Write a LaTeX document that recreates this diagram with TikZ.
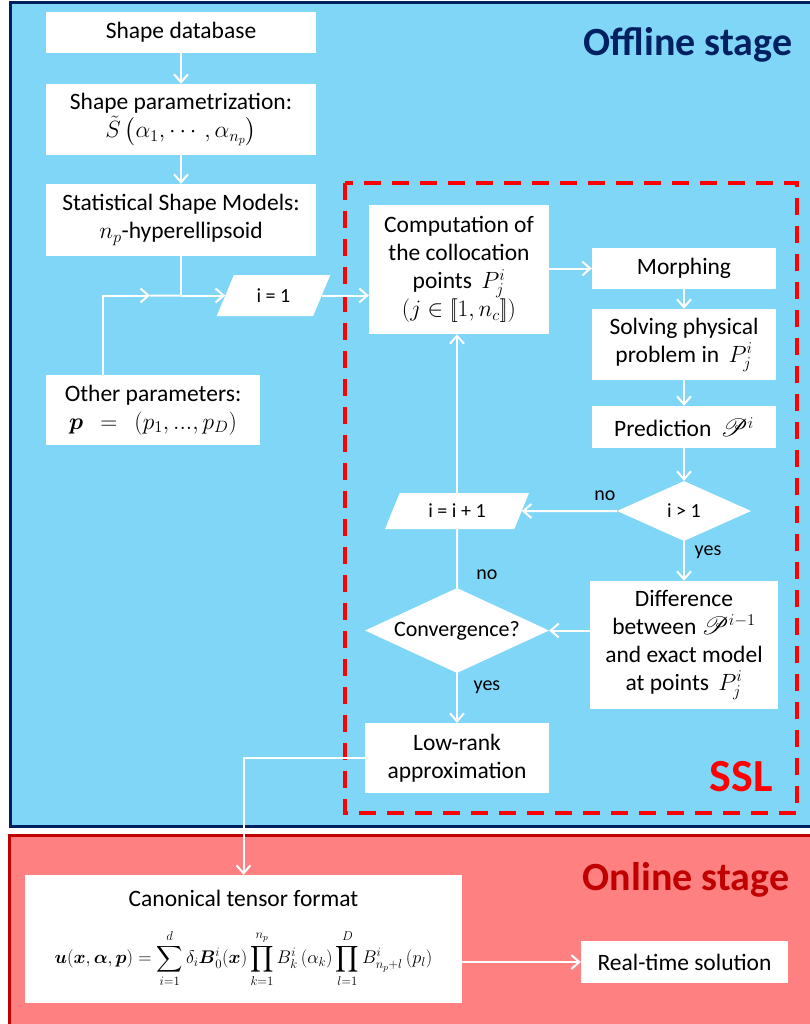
\RequirePackage{fix-cm}
\documentclass[tikz,border=0pt]{standalone}
\usepackage{amsmath,amssymb}
\usepackage{mathrsfs}
\usepackage[no-math]{fontspec}
\setmainfont{Carlito}
\usetikzlibrary{arrows.meta,shapes.geometric}
\definecolor{offfill}{RGB}{128,214,247}
\definecolor{offdark}{RGB}{0,32,96}
\definecolor{onfill}{RGB}{255,128,128}
\definecolor{ondark}{RGB}{192,0,0}
\definecolor{sslred}{RGB}{255,0,0}
\begin{document}
\begin{tikzpicture}[x=1pt,y=-1pt,
  box/.style={fill=white, draw=none, align=center, inner sep=0pt, text=black, font=\fontsize{23.5}{28}\selectfont},
  para/.style={trapezium, trapezium left angle=62, trapezium right angle=118, trapezium stretches=true, fill=white, draw=none, inner sep=0pt, text=black, font=\fontsize{20}{24}\selectfont},
  dec/.style={diamond, aspect=2.2, fill=white, draw=none, inner sep=0pt, text=black, font=\fontsize{20}{24}\selectfont},
  arr/.style={draw=white, line width=2pt, -{Straight Barb[length=8pt,width=14pt]}},
  ln/.style={draw=white, line width=2pt},
  lbl/.style={text=black, font=\fontsize{20}{24}\selectfont},
  stage/.style={font=\fontsize{40}{48}\selectfont\bfseries}
]
\useasboundingbox (0,0) rectangle (810,1024);
\clip (0,0) rectangle (810,1024);
\fill[white] (0,0) rectangle (810,1024);
% stage panels
\draw[draw=offdark, line width=3pt, fill=offfill] (10,3) rectangle (830,826);
\draw[draw=ondark, line width=3pt, fill=onfill] (9,835) rectangle (830,1040);
\node[stage, text=offdark] (offt) at (688,45) {Offline stage};
\node[stage, text=ondark] (ont) at (686,880) {Online stage};
% SSL frame
\draw[sslred, line width=4pt, dash pattern=on 17pt off 11pt] (345,183) rectangle (797,813);
\node[font=\fontsize{46}{52}\selectfont\bfseries, text=sslred] (sslt) at (741,777) {SSL};

% nodes
\node[box, minimum width=270pt, minimum height=41pt] (sdb) at (181,32.5) {Shape database};
\node[box, minimum width=270pt, minimum height=71pt] (spar) at (181,119.5) {Shape parametrization:\\ $\tilde{S}\left(\alpha_1,\cdots,\alpha_{n_p}\right)$};
\node[box, minimum width=270pt, minimum height=72pt] (ssm) at (181,220) {Statistical Shape Models:\\ $n_p$-hyperellipsoid};
\node[para, minimum width=114pt, minimum height=41pt] (i1) at (273.5,295.5) {i = 1};
\node[box, minimum width=214pt, minimum height=70pt] (oth) at (153,410) {Other parameters:\\ $\boldsymbol{p}\ \ =\ \ (p_1,...,p_D)$};

\node[box, minimum width=180pt, minimum height=129pt] (comp) at (459,269.5) {Computation of\\ the collocation\\ points $\,P_j^i$\\ $(j\in[\![1,n_c]\!])$};
\node[box, minimum width=184pt, minimum height=41pt] (morph) at (684,268.5) {Morphing};
\node[box, minimum width=184pt, minimum height=71pt] (solv) at (684,344.5) {Solving physical\\ problem in $\,P_j^i$};
\node[box, minimum width=184pt, minimum height=42pt] (pred) at (684,427) {Prediction $\,\mathscr{P}^i$};
\node[dec, minimum width=134pt, minimum height=60pt] (dia1) at (684,511) {i > 1};
\node[para, minimum width=145pt, minimum height=36pt] (iinc) at (457,511) {i = i + 1};
\node[dec, minimum width=184pt, minimum height=85pt, font=\fontsize{22}{26}\selectfont] (conv) at (457,630.5) {Convergence?};
\node[box, minimum width=188pt, minimum height=128pt] (diff) at (684,645) {Difference\\ between $\mathscr{P}^{i-1}$\\ and exact model\\ at points $\,P_j^i$};
\node[box, minimum width=184pt, minimum height=70pt] (lowr) at (457,758) {Low-rank\\ approximation};

\node[box, minimum width=437pt, minimum height=128pt] (canon) at (243.5,939) {Canonical tensor format\\[22pt]
  {\fontsize{18.3}{22}\selectfont $\displaystyle \boldsymbol{u}(\boldsymbol{x},\boldsymbol{\alpha},\boldsymbol{p})=\sum_{i=1}^{d}\delta_i\boldsymbol{B}_0^i(\boldsymbol{x})\prod_{k=1}^{n_p}B_k^i\left(\alpha_k\right)\prod_{l=1}^{D}B_{n_p+l}^i\left(p_l\right)$}};
\node[box, minimum width=207pt, minimum height=42pt] (real) at (684.5,962) {Real-time solution};

% labels
\node[lbl] (no1) at (605,496) {no};
\node[lbl] (yes1) at (708,552) {yes};
\node[lbl] (no2) at (487,575) {no};
\node[lbl] (yes2) at (487,687) {yes};

% connectors
\draw[arr] (sdb) -- (spar);
\draw[arr] (spar) -- (ssm);
\coordinate (jn) at (ssm.south |- i1.west);
\draw[ln] (ssm.south) -- (jn);
\draw[arr] (jn) -- (i1.west);
\coordinate (ob) at ([xshift=-50pt]oth.north);
\coordinate (om) at (150,295.5);
\draw[arr] (ob) |- (om);
\draw[ln] (om) -- (jn);
\draw[arr] (i1.east) -- (comp.west |- i1.east);
\draw[arr] (comp.east |- morph.west) -- (morph.west);
\draw[arr] (morph) -- (solv);
\draw[arr] (solv) -- (pred);
\draw[arr] (pred) -- (dia1);
\draw[arr] (dia1) -- (iinc);
\draw[arr] (dia1) -- (diff);
\draw[arr] (diff.west |- conv.east) -- (conv.east);
\draw[ln] (conv) -- (iinc);
\draw[arr] (iinc.north) -- (comp.south -| iinc.north);
\draw[arr] (conv) -- (lowr);
\draw[arr] (lowr.west) -| (canon.north);
\draw[arr] (canon.east |- real.west) -- (real.west);
\end{tikzpicture}
\end{document}
